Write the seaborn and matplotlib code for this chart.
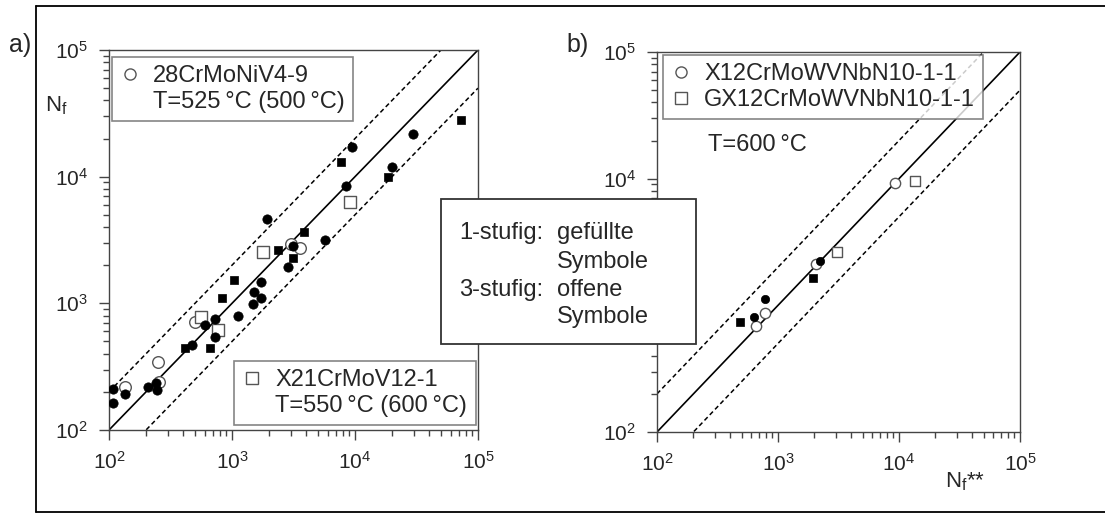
import numpy as np
import pandas as pd
import matplotlib
matplotlib.use('Agg')
import matplotlib.pyplot as plt
from matplotlib.lines import Line2D
from matplotlib.patches import Rectangle
import seaborn as sns

sns.set_theme(style='ticks')
plt.rcParams['font.family'] = ['Liberation Sans', 'DejaVu Sans']
plt.rcParams['mathtext.fontset'] = 'custom'
plt.rcParams['mathtext.rm'] = 'Liberation Sans'
plt.rcParams['mathtext.it'] = 'Liberation Sans:italic'
plt.rcParams['mathtext.default'] = 'regular'

# a) links: 28CrMoNiV4-9 (Kreise), X21CrMoV12-1 (Quadrate)
a_kreis_voll_x = [107, 107, 136, 206, 241, 244, 473, 722, 722, 607, 1111, 1500, 1722, 1490, 1710,
                  2870, 3150, 1940, 5700, 8400, 19900, 9500, 29400]
a_kreis_voll_y = [209, 164, 192, 220, 236, 207, 468, 542, 748, 674, 798, 1236, 1465, 982, 1107,
                  1945, 2830, 4660, 3160, 8430, 11830, 17200, 21700]
a_quad_voll_x = [417, 662, 824, 1038, 3110, 2380, 3850, 7660, 18400, 73000]
a_quad_voll_y = [444, 447, 1095, 1537, 2266, 2630, 3630, 12970, 10000, 28000]
a_kreis_offen_x = [136, 257, 251, 503, 3000, 3570]
a_kreis_offen_y = [220, 239, 345, 716, 2920, 2720]
a_quad_offen_x = [774, 560, 1800, 9100]
a_quad_offen_y = [615, 784, 2520, 6270]

# b) rechts: X12CrMoWVNbN10-1-1 (Kreise), GX12CrMoWVNbN10-1-1 (Quadrate)
b_kreis_voll_x = [631, 787, 2222]
b_kreis_voll_y = [809, 1128, 2250]
b_quad_voll_x = [489, 1945]
b_quad_voll_y = [735, 1633]
b_kreis_offen_x = [661, 778, 2046, 9300]
b_kreis_offen_y = [682, 865, 2118, 9300]
b_quad_offen_x = [3050, 13500]
b_quad_offen_y = [2650, 9600]

achsen_ticks = [1e2, 1e3, 1e4, 1e5]
tick_text = ['$10^{2}$', '$10^{3}$', '$10^{4}$', '$10^{5}$']

GRAU = '#555555'


def frame(xs, ys, form, art):
    return pd.DataFrame({'N': xs, 'Nf': ys, 'form': form, 'art': art})


def punkte(ax, df, s_voll, s_offen):
    for (form, art), d in df.groupby(['form', 'art']):
        m = 'o' if form == 'kreis' else 's'
        if art == 'voll':
            sns.scatterplot(data=d, x='N', y='Nf', marker=m, color='black', edgecolor='black',
                            s=s_voll if m == 'o' else s_voll * 0.85, linewidth=0.5, ax=ax,
                            legend=False, zorder=4)
        else:
            sns.scatterplot(data=d, x='N', y='Nf', marker=m, facecolor='white', edgecolor=GRAU,
                            s=s_offen, linewidth=1.0, ax=ax, legend=False, zorder=3)
    ax.set_xlabel('')
    ax.set_ylabel('')


def achse(ax, ylabels):
    ax.set_xscale('log')
    ax.set_yscale('log')
    ax.set_xlim(1e2, 1e5)
    ax.set_ylim(1e2, 1e5)
    ax.set_xticks(achsen_ticks)
    ax.set_xticklabels(tick_text)
    ax.set_yticks(achsen_ticks)
    ax.set_yticklabels(ylabels)
    ax.set_xlim(1e2, 1e5)
    ax.set_ylim(1e2, 1e5)
    grenzen = np.array([1e2, 1e5])
    ax.plot(grenzen, grenzen, color='black', lw=1.2, zorder=2)
    ax.plot(grenzen, grenzen * 2, color='black', lw=1.1, ls=(0, (3, 2)), zorder=2)
    ax.plot(grenzen, grenzen / 2, color='black', lw=1.1, ls=(0, (3, 2)), zorder=2)
    for sp in ax.spines.values():
        sp.set_color('#444444')
        sp.set_linewidth(1.0)
    ax.tick_params(which='major', direction='out', length=7, width=1, color='#444444',
                   labelsize=15, pad=8)
    ax.tick_params(which='minor', direction='out', length=4, width=1, color='#444444')
    ax.tick_params(top=False, right=False, which='both')


fig = plt.figure(figsize=(11.05, 5.14), dpi=100)
W, H = 1105, 514
ax1 = fig.add_axes([109 / W, 1 - 430 / H, 369 / W, 380 / H])
ax2 = fig.add_axes([657 / W, 1 - 432 / H, 363 / W, 380 / H])

df_a = pd.concat([
    frame(a_kreis_voll_x, a_kreis_voll_y, 'kreis', 'voll'),
    frame(a_quad_voll_x, a_quad_voll_y, 'quad', 'voll'),
    frame(a_kreis_offen_x, a_kreis_offen_y, 'kreis', 'offen'),
    frame(a_quad_offen_x, a_quad_offen_y, 'quad', 'offen'),
])
df_b = pd.concat([
    frame(b_kreis_voll_x, b_kreis_voll_y, 'kreis', 'voll'),
    frame(b_quad_voll_x, b_quad_voll_y, 'quad', 'voll'),
    frame(b_kreis_offen_x, b_kreis_offen_y, 'kreis', 'offen'),
    frame(b_quad_offen_x, b_quad_offen_y, 'quad', 'offen'),
])

achse(ax1, tick_text)
# 10^3 rechts liegt unter dem Kasten
achse(ax2, [tick_text[0], '', tick_text[2], tick_text[3]])
punkte(ax1, df_a, 45, 70)
punkte(ax2, df_b, 36, 55)

leer = Line2D([], [], ls='none', marker=None)
kreis = Line2D([], [], ls='none', marker='o', mfc='white', mec=GRAU, ms=8, mew=1)
quad = Line2D([], [], ls='none', marker='s', mfc='white', mec=GRAU, ms=8, mew=1)
leg_kw = dict(frameon=True, fancybox=False, edgecolor='#666666', fontsize=17,
              handlelength=0.8, handletextpad=0.6, borderaxespad=0, labelspacing=0.15,
              borderpad=0.35)

l1 = ax1.legend([kreis, leer], ['28CrMoNiV4-9', 'T=525\u2009°C (500\u2009°C)'], loc='upper left',
                bbox_to_anchor=(0.008, 0.982), **leg_kw)
l1.get_frame().set_linewidth(1.2)
ax1.add_artist(l1)
l2 = ax1.legend([quad, leer], ['X21CrMoV12-1', 'T=550\u2009°C (600\u2009°C)'], loc='lower left',
                bbox_to_anchor=(0.339, 0.013), **leg_kw)
l2.get_frame().set_linewidth(1.2)

l3 = ax2.legend([kreis, quad], ['X12CrMoWVNbN10-1-1', 'GX12CrMoWVNbN10-1-1'], loc='upper left',
                bbox_to_anchor=(0.0165, 0.992), **leg_kw)
l3.get_frame().set_linewidth(1.2)
ax2.text(0.14, 0.755, 'T=600\u2009°C', transform=ax2.transAxes, fontsize=17, va='center', ha='left')

# Achsentitel
fig.text(56 / W, 1 - 106 / H, r'$\mathregular{N_f}$', fontsize=16, ha='center', va='center')
fig.text(945 / W, 1 - 482 / H, r'$\mathregular{N_f}$**', fontsize=16, ha='left', va='center')

# Rahmen
fig.add_artist(Line2D([36 / W, 1], [1 - 6 / H, 1 - 6 / H], color='black', lw=1.3,
                      transform=fig.transFigure))
fig.add_artist(Line2D([36 / W, 1], [1 - 512 / H, 1 - 512 / H], color='black', lw=1.3,
                      transform=fig.transFigure))
fig.add_artist(Line2D([36 / W, 36 / W], [1 - 6 / H, 1 - 512 / H], color='black', lw=1.3,
                      transform=fig.transFigure))
fig.text(20 / W, 1 - 45 / H, 'a)', fontsize=18, ha='center', va='center',
         bbox=dict(facecolor='white', edgecolor='none', pad=2), zorder=12)
fig.text(578 / W, 1 - 45 / H, 'b)', fontsize=18, ha='center', va='center')

# Kasten in der Mitte
fig.add_artist(Rectangle((441 / W, 1 - 344 / H), 255 / W, 145 / H, transform=fig.transFigure,
                         facecolor='white', edgecolor='#333333', lw=1.3, zorder=10))
fig.text(459 / W, 1 - 233 / H, '1-stufig:', fontsize=17, va='center', ha='left', zorder=11)
fig.text(459 / W, 1 - 290 / H, '3-stufig:', fontsize=17, va='center', ha='left', zorder=11)
for txt, yy in [('gefüllte', 233), ('Symbole', 262), ('offene', 290), ('Symbole', 317)]:
    fig.text(557 / W, 1 - yy / H, txt, fontsize=17, va='center', ha='left', zorder=11)

fig.savefig('out.png', dpi=100)
